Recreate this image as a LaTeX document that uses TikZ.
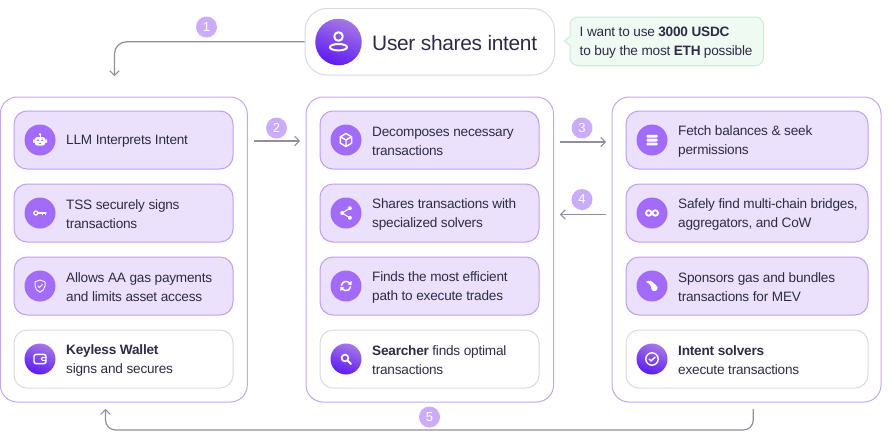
\documentclass[tikz,border=0pt]{standalone}
\usepackage{fontspec}
\setmainfont[LetterSpace=-1.5]{Liberation Sans}
\usetikzlibrary{arrows.meta,shapes.misc,positioning}
\definecolor{ink}{HTML}{2E2C45}
\definecolor{panelline}{HTML}{C4A8EC}
\definecolor{itemfill}{HTML}{EBE1FD}
\definecolor{itemline}{HTML}{BFA0EC}
\definecolor{iconfill}{HTML}{A26CF8}
\definecolor{greyline}{HTML}{DADAE2}
\definecolor{arrowc}{HTML}{908E9F}
\definecolor{badgec}{HTML}{CBACFA}
\definecolor{bubblefill}{HTML}{EFFAF3}
\definecolor{bubbleline}{HTML}{CBEBD5}
\definecolor{gradtop}{HTML}{A577E6}
\definecolor{gradbot}{HTML}{5E1BF2}
\tikzset{
  panelbox/.style={draw=panelline,line width=1pt,fill=white,rounded corners=17pt,minimum height=305pt,inner sep=0pt},
  itembox/.style={draw=itemline,line width=1pt,fill=itemfill,rounded corners=13pt,minimum height=58pt,inner sep=0pt},
  whitebox/.style={draw=greyline,line width=1pt,fill=white,rounded corners=13pt,minimum height=58pt,inner sep=0pt},
  iconflat/.style={circle,fill=iconfill,minimum size=31pt,inner sep=0pt},
  icongrad/.style={circle,top color=gradtop,bottom color=gradbot,shading angle=-20,minimum size=31pt,inner sep=0pt},
  txt/.style={anchor=west,align=left,inner sep=0pt,text=ink,font=\fontsize{13.6}{19}\selectfont},
  badge/.style={circle,fill=badgec,minimum size=21pt,inner sep=0pt,text=white,font=\fontsize{13}{15}\selectfont},
  flow/.style={draw=arrowc,line width=1.2pt,-{Straight Barb[length=4.5pt,width=9.5pt,line width=1.1pt]}},
  wl/.style={draw=white,line width=1.4pt,line cap=round,line join=round},
}
\begin{document}
\begin{tikzpicture}[x=1pt,y=-1pt]
\useasboundingbox (0,0) rectangle (894,437);
\fill[white] (0,0) rectangle (894,437);

% panels
\node[panelbox,minimum width=247pt] (p1) at (123.8,249.5) {};
\node[panelbox,minimum width=247.5pt] (p2) at (429.8,249.5) {};
\node[panelbox,minimum width=269pt] (p3) at (746.5,249.5) {};

% items
\foreach \n/\cx/\w in {a/123.5/219,b/429.5/219,c/747/242}{
  \node[itembox,minimum width=\w pt] (\n1) at (\cx,140) {};
  \node[itembox,minimum width=\w pt] (\n2) at (\cx,213) {};
  \node[itembox,minimum width=\w pt] (\n3) at (\cx,286) {};
  \node[whitebox,minimum width=\w pt] (\n4) at (\cx,359) {};
}

% top
\node[draw=greyline,line width=1pt,fill=white,rounded corners=22pt,minimum width=249.5pt,minimum height=66.5pt,inner sep=0pt] (user) at (429.8,41.8) {};
\node[circle,top color=gradtop,bottom color=gradbot,shading angle=-20,minimum size=46.5pt,inner sep=0pt] (uic) at (338.5,42) {};
\node[anchor=west,inner sep=0pt,text=ink,font=\fontsize{20.9}{24}\selectfont] (utxt) at (372,42.8) {User shares intent};

% bubble
\draw[draw=bubbleline,line width=1pt,fill=bubblefill,rounded corners=8pt]
  (570,36.5) -- (570,17) -- (763.5,17) -- (763.5,65.5) -- (570,65.5) -- (570,45.5);
\fill[bubblefill] (570.6,36) -- (565,41) -- (570.6,46) -- cycle;
\draw[draw=bubbleline,line width=1pt,line join=round] (570,36.5) -- (564.5,41) -- (570,45.5);
\node[txt] (btxt) at (579.5,42.7) {I want to use \textbf{3000 USDC}\\to buy the most \textbf{ETH} possible};

% icon discs
\node[iconflat] (i1) at (40,140) {};
\node[iconflat] (i2) at (40,213) {};
\node[iconflat] (i3) at (40,286) {};
\node[icongrad] (i4) at (40,359) {};
\node[iconflat] (j1) at (346,140) {};
\node[iconflat] (j2) at (346,213) {};
\node[iconflat] (j3) at (346,286) {};
\node[icongrad] (j4) at (346,359) {};
\node[iconflat] (k1) at (652,140) {};
\node[iconflat] (k2) at (652,213) {};
\node[iconflat] (k3) at (652,286) {};
\node[icongrad] (k4) at (652,359) {};

% labels
\node[txt] (t1) at (66,141.7) {LLM Interprets Intent};
\node[txt] (t2) at (66,214) {TSS securely signs\\transactions};
\node[txt] (t3) at (66,287) {Allows AA gas payments\\and limits asset access};
\node[txt] (t4) at (66,360) {\textbf{Keyless Wallet}\\signs and secures};
\node[txt] (u1) at (372,141) {Decomposes necessary\\transactions};
\node[txt] (u2) at (372,214) {Shares transactions with\\specialized solvers};
\node[txt] (u3) at (372,287) {Finds the most efficient\\path to execute trades};
\node[txt] (u4) at (372,360) {\textbf{Searcher} finds optimal\\transactions};
\node[txt] (v1) at (678,141) {Fetch balances \& seek\\permissions};
\node[txt] (v2) at (678,214) {Safely find multi-chain bridges,\\aggregators, and CoW};
\node[txt] (v3) at (678,287) {Sponsors gas and bundles\\transactions for MEV};
\node[txt] (v4) at (678,360) {\textbf{Intent solvers}\\execute transactions};

% connectors
\coordinate (e1) at (114.5,76);
\coordinate (s2) at (254,141); \coordinate (e2) at (300,141);
\coordinate (s3) at (560,142); \coordinate (e3) at (606,142);
\coordinate (s4) at (606,214.5); \coordinate (e4) at (560,214.5);
\coordinate (s5) at (753.3,409); \coordinate (e5) at (105.5,409);
\draw[flow,rounded corners=12pt] (user.west) -- (e1 |- user.west) -- (e1);
\draw[flow] (s2) -- (e2);
\draw[flow] (s3) -- (e3);
\draw[flow] (s4) -- (e4);
\draw[flow,rounded corners=10pt] (s5) -- (753.3,430) -- (105.5,430) -- (e5);

% badges
\node[badge] (b1) at (206.5,27) {1};
\node[badge] (b2) at (276.5,128) {2};
\node[badge] (b3) at (582,128) {3};
\node[badge] (b4) at (582,199.5) {4};
\node[badge] (b5) at (429.5,417) {5};

% user icon
\begin{scope}[shift={(338.5,42)}]
  \draw[wl,line width=2pt] (0,-5.5) circle[radius=4.3];
  \draw[wl,line width=2pt] (0,5.2) ellipse[x radius=8.6,y radius=3.2];
\end{scope}
% robot
\begin{scope}[shift={(40,140)}]
  \fill[white,rounded corners=2.5pt] (-5.2,-3) rectangle (5.2,5.5);
  \fill[white] (0,-5.6) circle[radius=1.2];
  \draw[white,line width=1pt] (0,-5) -- (0,-3);
  \fill[white,rounded corners=.8pt] (-7,-.8) rectangle (-5.2,3);
  \fill[white,rounded corners=.8pt] (5.2,-.8) rectangle (7,3);
  \fill[iconfill] (-2.2,0.2) circle[radius=1] (2.2,0.2) circle[radius=1];
  \draw[iconfill,line width=.7pt] (-1.3,3.2) -- (1.3,3.2);
\end{scope}
% key
\begin{scope}[shift={(40,213)}]
  \draw[wl,line width=1.3pt] (-4.2,0) circle[radius=2];
  \draw[wl,line width=1.3pt] (-2.2,0) -- (6,0);
  \draw[wl,line width=1.1pt] (2.8,0) -- (2.8,1.8) (5.6,0) -- (5.6,1.8);
\end{scope}
% shield
\begin{scope}[shift={(40,286)}]
  \draw[wl,line width=1pt,draw=white!85!iconfill] (0,-6) -- (5,-4.2) -- (5,0) .. controls (5,3.2) and (2.3,5) .. (0,6.2) .. controls (-2.3,5) and (-5,3.2) .. (-5,0) -- (-5,-4.2) -- cycle;
  \draw[wl,line width=1pt,draw=white!85!iconfill] (-2.2,0) -- (-0.6,1.6) -- (2.4,-1.5);
\end{scope}
% wallet
\begin{scope}[shift={(40,359)}]
  \draw[wl,rounded corners=2pt] (-6,-4.6) rectangle (6,4.6);
  \draw[wl,line width=1.1pt,rounded corners=1pt] (6,-1.5) -- (1.5,-1.5) -- (1.5,1.4) -- (6,1.4);
\end{scope}
% cube
\begin{scope}[shift={(346,140)}]
  \draw[wl] (0,-6.5) -- (5.6,-3.2) -- (5.6,3.2) -- (0,6.5) -- (-5.6,3.2) -- (-5.6,-3.2) -- cycle;
  \draw[wl] (-5.6,-3.2) -- (0,0) -- (5.6,-3.2) (0,0) -- (0,6.5);
\end{scope}
% share
\begin{scope}[shift={(346,213)}]
  \draw[wl,line width=1.1pt] (3.8,-4.8) -- (-3.8,0) -- (3.8,4.8);
  \fill[white] (3.8,-4.8) circle[radius=2] (-3.8,0) circle[radius=2] (3.8,4.8) circle[radius=2];
\end{scope}
% sync
\begin{scope}[shift={(346,286)}]
  \draw[wl,line width=1.5pt] (-4.6,-.8) arc[start angle=190,end angle=320,radius=4.7];
  \draw[wl,line width=1.5pt] (4.6,.8) arc[start angle=10,end angle=140,radius=4.7];
  \fill[white] (5.5,-5) -- (5.7,-0.8) -- (1.6,-1.6) -- cycle;
  \fill[white] (-5.5,5) -- (-5.7,0.8) -- (-1.6,1.6) -- cycle;
\end{scope}
% search
\begin{scope}[shift={(346,359)}]
  \draw[wl,line width=1.7pt] (-1,-1) circle[radius=3.4];
  \draw[wl,line width=2pt] (1.6,1.6) -- (4.8,4.8);
\end{scope}
% stack
\begin{scope}[shift={(652,140)}]
  \foreach \yy in {-5.2,-1.3,2.6}{
    \fill[white,rounded corners=.8pt] (-5.5,\yy) rectangle (5.5,\yy+2.8);
  }
\end{scope}
% infinity
\begin{scope}[shift={(652,213)}]
  \draw[wl,line width=1.9pt] (-3.3,0) circle[radius=2.7];
  \draw[wl,line width=1.9pt] (3.3,0) circle[radius=2.7];
\end{scope}
% comet shape
\begin{scope}[shift={(652,286)}]
  \fill[white] (-6,-4.2) .. controls (-3,-6) and (0,-5.6) .. (1.6,-3) .. controls (3,-1.5) and (5,-.5) .. (5.6,1.5) .. controls (6,5.2) and (1,6.2) .. (-.3,3.8) .. controls (-.9,1.6) and (-1,-1.6) .. (-3,-2.4) .. controls (-4,-2.7) and (-5.2,-2.8) .. cycle;
\end{scope}
% check circle
\begin{scope}[shift={(652,359)}]
  \draw[wl] (0,0) circle[radius=6.2];
  \draw[wl] (-2.8,0) -- (-0.8,2) -- (3,-2);
\end{scope}
\end{tikzpicture}
\end{document}
